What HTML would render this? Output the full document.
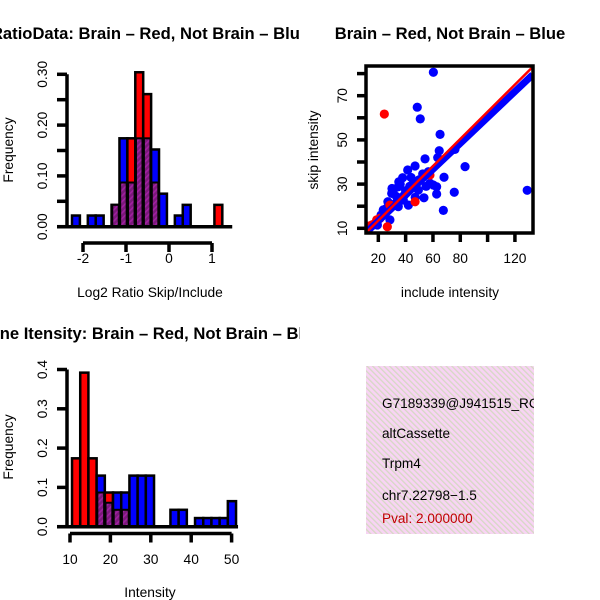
<!DOCTYPE html>
<html><head><meta charset="utf-8"><style>
html,body{margin:0;padding:0;background:#fff}
svg{display:block;font-family:"Liberation Sans",sans-serif}
</style></head><body>
<svg id="chart" width="600" height="600" viewBox="0 0 600 600" xmlns="http://www.w3.org/2000/svg">
<defs>
<clipPath id="cTL"><rect x="0" y="0" width="300" height="300"/></clipPath>
<clipPath id="cTR"><rect x="300" y="0" width="300" height="300"/></clipPath>
<clipPath id="cBL"><rect x="0" y="300" width="300" height="300"/></clipPath>
<clipPath id="cBox"><rect x="366" y="366" width="168" height="168"/></clipPath>
<clipPath id="cScat"><rect x="366" y="66" width="167" height="167"/></clipPath>
<pattern id="hatch" width="4" height="4" patternUnits="userSpaceOnUse" patternTransform="rotate(45)">
<rect width="4" height="4" fill="#7a1a7a"/><rect width="1.6" height="4" fill="#a020a0"/></pattern>
<pattern id="boxhatch" width="4" height="4" patternUnits="userSpaceOnUse" patternTransform="rotate(-45)">
<rect width="4" height="4" fill="#f8d4f4"/><rect width="1.3" height="4" fill="#d6d8c4"/></pattern>
</defs>
<g id="tl" clip-path="url(#cTL)"></g>
<g id="tr" clip-path="url(#cTR)"></g>
<g id="bl" clip-path="url(#cBL)"></g>
<g id="br">
<rect x="366" y="366" width="168" height="168" fill="url(#boxhatch)"/>
<g clip-path="url(#cBox)" font-size="13.6">
<text x="382" y="408">G7189339@J941515_RC</text>
<text x="382" y="438">altCassette</text>
<text x="382" y="468">Trpm4</text>
<text x="382" y="500">chr7.22798−1.5</text>
<text x="382" y="523" fill="#c00000">Pval: 2.000000</text>
</g></g>
</svg>
<script>
// ---- Top-left histogram data (Log2 ratio) ----
const ratioBinStart = -2.256;
const ratioBinWidth = 0.184;
const ratioBlue = [0.022,0,0.022,0.022,0,0.043,0.174,0.087,0.174,0.174,0.152,0.065,0,0.022,0.043,0,0,0,0,0];
const ratioRed  = [0,0,0,0,0,0.043,0.087,0.174,0.304,0.261,0.087,0,0,0,0,0,0,0,0.043,0];
const ratioXTicks = [-2,-1,0,1];
const ratioYTicks = [0,0.05,0.10,0.15,0.20,0.25,0.30];
const ratioYLabels = ["0.00","0.10","0.20","0.30"];
// ---- Scatter data ----
const blueX = [60.3,48.5,50.7,65.2,64.6,76.1,54.2,63.5,46.9,41.5,83.5,68.1,37.8,52.5,56.6,45.6,34.6,29.8,62.7,62.7,75.6,129,53.4,67.6,42,34.6,23.6,28.5,19.3,33.4,38.3,49.3,57.8,60.2,36,40,44,31,27,39,43,47,32,26,22,35,55,50,30];
const blueY = [80.6,64.8,59.5,52.5,45.1,45.7,41.4,42,38.2,36.4,37.9,33.1,32.9,34.6,35.6,30.4,28.8,25.8,28.8,25.5,26.3,27.2,23.8,18.1,20.5,19.8,18.3,13.8,11.5,24.3,22.8,27.3,30.4,29.6,30,27,33,26,22,25,29,24,21,19,16,31,29,32,28];
const redX = [24.4,18.8,15.2,26.6,28.5,46.9,57.8,21.2,13,17];
const redY = [61.7,13.8,11.5,10.7,20.5,22,34.1,14.5,11,12];
const redLine = [[11,8],[133,83]];
const blueLine = [[11,8],[133,79.5]];
const scatXTicks = [20,40,60,80,100,120];
const scatXLabels = [20,40,60,80,120];
const scatYTicks = [10,20,30,40,50,60,70,80];
const scatYLabels = [10,30,50,70];
// ---- Bottom-left histogram data (Intensity) ----
const intBinStart = 10.5;
const intBinWidth = 2.03;
const intBlue = [0,0,0,0.13,0.061,0.087,0.087,0.13,0.13,0.13,0,0,0.043,0.043,0,0.022,0.022,0.022,0.022,0.065];
const intRed  = [0.174,0.392,0.174,0.087,0.087,0.043,0.043,0,0,0,0,0,0,0,0,0,0,0,0,0];
const intXTicks = [10,20,30,40,50];
const intYTicks = [0,0.1,0.2,0.3,0.4];
const intYLabels = ["0.0","0.1","0.2","0.3","0.4"];

const NS="http://www.w3.org/2000/svg";
const FS=13.8, TFS=16.6;
function mk(parent,tag,attrs,text){const e=document.createElementNS(NS,tag);for(const k in attrs)e.setAttribute(k,attrs[k]);if(text!==undefined)e.textContent=text;parent.appendChild(e);return e;}

function histogram(g,cfg){
  const {sx,sy,start,width,blue,red,xTicks,yTicks,yLabels,axisY,title,titleY,xlab,xlabY,ylabY,xLabelY}=cfg;
  for(let i=0;i<blue.length;i++){
    const x0=sx(start+i*width), x1=sx(start+(i+1)*width);
    const b=blue[i], r=red[i], lo=Math.min(b,r), hi=Math.max(b,r);
    if(hi<=0) continue;
    const top=mk(g,'rect',{x:x0,y:sy(hi),width:x1-x0,height:sy(0)-sy(hi),fill:b>=r?'#0000ff':'#ff0000',stroke:'#000','stroke-width':2.5});
    
    
    if(lo>0){
      const ov=mk(g,'rect',{x:x0+1.2,y:sy(lo),width:x1-x0-2.4,height:sy(0)-sy(lo)-1.2,fill:'url(#hatch)',stroke:'#000','stroke-width':1});
      
      
      mk(g,'line',{x1:x0,x2:x1,y1:sy(lo),y2:sy(lo),stroke:'#000','stroke-width':2});
    }
  }
  const bl=mk(g,'line',{x1:57,x2:sx(start+blue.length*width)+2,y1:sy(0),y2:sy(0),stroke:'#000','stroke-width':3.5});
  
  
  const ya=mk(g,'g',{});
  
  
  mk(ya,'line',{x1:67,x2:67,y1:sy(yTicks[0]),y2:sy(yTicks[yTicks.length-1]),stroke:'#000','stroke-width':3.5});
  yTicks.forEach(t=>mk(ya,'line',{x1:57,x2:67,y1:sy(t),y2:sy(t),stroke:'#000','stroke-width':3.5}));
  yLabels.forEach(l=>{const y=sy(parseFloat(l));mk(ya,'text',{x:47,y:y,'font-size':FS,'text-anchor':'middle',transform:`rotate(-90 47 ${y})`},l);});
  const xa=mk(g,'g',{});
  
  
  mk(xa,'line',{x1:sx(xTicks[0]),x2:sx(xTicks[xTicks.length-1]),y1:axisY,y2:axisY,stroke:'#000','stroke-width':3.5});
  xTicks.forEach(t=>{mk(xa,'line',{x1:sx(t),x2:sx(t),y1:axisY,y2:axisY+9,stroke:'#000','stroke-width':3.5});
    mk(xa,'text',{x:sx(t),y:xLabelY,'font-size':FS,'text-anchor':'middle'},t);});
  const tt=mk(g,'text',{x:150,y:titleY,'font-size':TFS,'font-weight':'bold','text-anchor':'middle'},title);
  
  
  const xl=mk(g,'text',{x:150,y:xlabY,'font-size':FS,'text-anchor':'middle'},xlab);
  
  
  const yl=mk(g,'text',{x:13,y:ylabY,'font-size':FS,'text-anchor':'middle',transform:`rotate(-90 13 ${ylabY})`},'Frequency');
  
  
}

histogram(document.getElementById('tl'),{
  sx:v=>83+(v+2)*43, sy:v=>226.7-v*508, start:ratioBinStart,width:ratioBinWidth,
  blue:ratioBlue,red:ratioRed,xTicks:ratioXTicks,yTicks:ratioYTicks,yLabels:ratioYLabels,
  axisY:243,xLabelY:263,title:'RatioData: Brain – Red, Not Brain – Blue',titleY:39,
  xlab:'Log2 Ratio Skip/Include',xlabY:297,ylabY:150});
histogram(document.getElementById('bl'),{
  sx:v=>70+(v-10)*4.04, sy:v=>526.7-v*393, start:intBinStart,width:intBinWidth,
  blue:intBlue,red:intRed,xTicks:intXTicks,yTicks:intYTicks,yLabels:intYLabels,
  axisY:533.5,xLabelY:564,title:'Gene Itensity: Brain – Red, Not Brain – Blue',titleY:339,
  xlab:'Intensity',xlabY:597,ylabY:447});

(function(){
  const g=document.getElementById('tr');
  const sx=v=>351+v*1.366, sy=v=>228.3-(v-10)*2.21;
  const pts=mk(g,'g',{'clip-path':'url(#cScat)'});
  for(let i=0;i<blueX.length;i++){const c=mk(pts,'circle',{cx:sx(blueX[i]),cy:sy(blueY[i]),r:4.6,fill:'#0000ff'});
    
    }
  for(let i=0;i<redX.length;i++){const c=mk(pts,'circle',{cx:sx(redX[i]),cy:sy(redY[i]),r:4.6,fill:'#ff0000'});
    
    }
  const lb=mk(pts,'line',{x1:sx(blueLine[0][0]),y1:sy(blueLine[0][1]),x2:sx(blueLine[1][0]),y2:sy(blueLine[1][1]),stroke:'#0000ff','stroke-width':7});
  
  
  const lr=mk(pts,'line',{x1:sx(redLine[0][0]),y1:sy(redLine[0][1]),x2:sx(redLine[1][0]),y2:sy(redLine[1][1]),stroke:'#ff0000','stroke-width':2.5});
  
  
  const fr=mk(g,'rect',{x:366,y:66,width:167,height:167,fill:'none',stroke:'#000','stroke-width':3.5});
  
  
  const xa=mk(g,'g',{});
  
  
  scatXTicks.forEach(t=>mk(xa,'line',{x1:sx(t),x2:sx(t),y1:233,y2:242,stroke:'#000','stroke-width':3.5}));
  scatXLabels.forEach(t=>mk(xa,'text',{x:sx(t),y:263,'font-size':FS,'text-anchor':'middle'},t));
  const ya=mk(g,'g',{});
  
  
  scatYTicks.forEach(t=>mk(ya,'line',{x1:357,x2:366,y1:sy(t),y2:sy(t),stroke:'#000','stroke-width':3.5}));
  scatYLabels.forEach(t=>{const y=sy(t);mk(ya,'text',{x:347,y:y,'font-size':FS,'text-anchor':'middle',transform:`rotate(-90 347 ${y})`},t);});
  const tt=mk(g,'text',{x:450,y:39,'font-size':TFS,'font-weight':'bold','text-anchor':'middle'},'Brain – Red, Not Brain – Blue');
  
  
  const xl=mk(g,'text',{x:450,y:297,'font-size':FS,'text-anchor':'middle'},'include intensity');
  
  
  const yl=mk(g,'text',{x:318,y:150,'font-size':FS,'text-anchor':'middle',transform:'rotate(-90 318 150)'},'skip intensity');
  
  
})();
</script>
</body></html>
